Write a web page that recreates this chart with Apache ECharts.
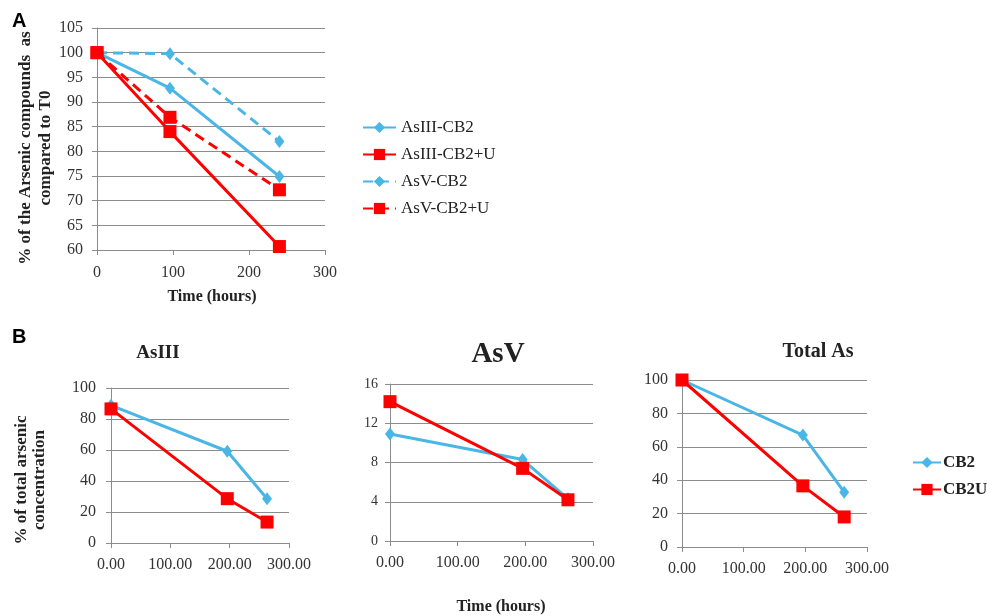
<!DOCTYPE html>
<html>
<head>
<meta charset="utf-8">
<script src="https://cdn.jsdelivr.net/npm/echarts@6/dist/echarts.min.js"></script>
<style>html,body{margin:0;padding:0;background:#fff}#c{width:987px;height:616px}</style>
</head>
<body>
<div id="c"></div>
<script>
// Panel A data
const timeA = [0, 96, 240];
const asIII_CB2 = [100, 92.8, 74.9];
const asIII_CB2U = [100, 84, 60.7];
const asV_CB2 = [100, 99.8, 82];
const asV_CB2U = [100, 86.9, 72.2];
const legendA = ['AsIII-CB2', 'AsIII-CB2+U', 'AsV-CB2', 'AsV-CB2+U'];
// Panel B data
const timeB = [0, 196, 263];
const bAsIII_CB2 = [88.8, 59.2, 28.5];
const bAsIII_CB2U = [86.5, 28.6, 13.5];
const bAsV_CB2 = [10.9, 8.3, 4.3];
const bAsV_CB2U = [14.2, 7.4, 4.2];
const bTot_CB2 = [100, 67, 32.8];
const bTot_CB2U = [100, 36.6, 18];
const legendB = ['CB2', 'CB2U'];
const titlesB = ['AsIII', 'AsV', 'Total As'];

const BLUE = '#4ab6e6', RED = '#ff0000';
const SERIF = 'Liberation Serif';
const pairs = (xs, ys) => xs.map((x, i) => [x, ys[i]]);

function xAx(grid, fmt, fs, margin) {
  return {
    type: 'value', gridIndex: grid, min: 0, max: 300, interval: 100,
    axisLine: {show: true, lineStyle: {color: '#8c8c8c', width: 1}},
    axisTick: {show: true, length: 5, lineStyle: {color: '#8c8c8c'}},
    splitLine: {show: false},
    axisLabel: {color: '#333', fontFamily: SERIF, fontSize: fs, margin: margin,
      formatter: v => fmt ? v.toFixed(2) : String(v)}
  };
}
function yAx(grid, min, max, interval, fs, margin) {
  return {
    type: 'value', gridIndex: grid, min: min, max: max, interval: interval,
    axisLine: {show: true, lineStyle: {color: '#8c8c8c', width: 1}},
    axisTick: {show: true, length: 5, lineStyle: {color: '#8c8c8c'}},
    splitLine: {show: true, lineStyle: {color: '#8c8c8c', width: 1}},
    axisLabel: {color: '#333', fontFamily: SERIF, fontSize: fs, margin: margin}
  };
}
function ser(name, xi, xs, ys, color, dashed, sym) {
  const isSq = sym === 'square';
  return {
    name: name, type: 'line', xAxisIndex: xi, yAxisIndex: xi,
    data: pairs(xs, ys),
    symbol: isSq ? 'rect' : 'diamond',
    symbolSize: isSq ? 13 : [10, 13],
    showSymbol: true,
    lineStyle: {color: color, width: 3, type: dashed ? [10, 6] : 'solid'},
    itemStyle: {color: color},
    z: isSq ? 3 : 2
  };
}

const chart = echarts.init(document.getElementById('c'), null, {renderer: 'canvas'});
chart.setOption({
  animation: false,
  backgroundColor: '#fff',
  grid: [
    {left: 97, top: 28, width: 228, height: 222},
    {left: 111, top: 388, width: 178, height: 155},
    {left: 390, top: 384, width: 203, height: 157},
    {left: 682, top: 380, width: 185, height: 167}
  ],
  xAxis: [xAx(0, false, 16, 15), xAx(1, true, 16, 14), xAx(2, true, 16, 14), xAx(3, true, 16, 14)],
  yAxis: [yAx(0, 60, 105, 5, 16, 14), yAx(1, 0, 100, 20, 16, 15), yAx(2, 0, 16, 4, 14, 12), yAx(3, 0, 100, 20, 16, 14)],
  legend: [
    {data: legendA, orient: 'vertical', left: 357, top: 114, itemWidth: 33, itemHeight: 14, itemGap: 10,
     textStyle: {fontFamily: SERIF, fontSize: 17, color: '#222'}},
    {data: legendB, orient: 'vertical', left: 907, top: 449, itemWidth: 28, itemHeight: 14, itemGap: 10,
     textStyle: {fontFamily: SERIF, fontSize: 17, fontWeight: 'bold', color: '#222', padding: [0, 0, 0, -3]}}
  ],
  series: [
    ser(legendA[0], 0, timeA, asIII_CB2, BLUE, false, 'diamond'),
    ser(legendA[1], 0, timeA, asIII_CB2U, RED, false, 'square'),
    ser(legendA[2], 0, timeA, asV_CB2, BLUE, true, 'diamond'),
    ser(legendA[3], 0, timeA, asV_CB2U, RED, true, 'square'),
    ser(legendB[0], 1, timeB, bAsIII_CB2, BLUE, false, 'diamond'),
    ser(legendB[1], 1, timeB, bAsIII_CB2U, RED, false, 'square'),
    ser(legendB[0], 2, timeB, bAsV_CB2, BLUE, false, 'diamond'),
    ser(legendB[1], 2, timeB, bAsV_CB2U, RED, false, 'square'),
    ser(legendB[0], 3, timeB, bTot_CB2, BLUE, false, 'diamond'),
    ser(legendB[1], 3, timeB, bTot_CB2U, RED, false, 'square')
  ],
  graphic: [
    {type: 'text', left: 12, top: 11, style: {text: 'A', font: 'bold 20px "Liberation Sans"', fill: '#000'}},
    {type: 'text', left: 12, top: 327, style: {text: 'B', font: 'bold 20px "Liberation Sans"', fill: '#000'}},
    {type: 'text', x: 36, y: 148, rotation: Math.PI / 2,
     style: {text: '% of the Arsenic compounds  as\ncompared to T0', font: 'bold 17px "Liberation Serif"', fill: '#222',
       align: 'center', verticalAlign: 'middle', lineHeight: 20}},
    {type: 'text', x: 212, y: 297, style: {text: 'Time (hours)', font: 'bold 16px "Liberation Serif"', fill: '#222', align: 'center', verticalAlign: 'middle'}},
    {type: 'text', x: 31, y: 480, rotation: Math.PI / 2,
     style: {text: '% of total arsenic\nconcentration', font: 'bold 17px "Liberation Serif"', fill: '#222',
       align: 'center', verticalAlign: 'middle', lineHeight: 18}},
    {type: 'text', x: 501, y: 607, style: {text: 'Time (hours)', font: 'bold 16px "Liberation Serif"', fill: '#222', align: 'center', verticalAlign: 'middle'}},
    {type: 'text', x: 158, y: 353, style: {text: titlesB[0], font: 'bold 19px "Liberation Serif"', fill: '#222', align: 'center', verticalAlign: 'middle'}},
    {type: 'text', x: 498, y: 355, style: {text: titlesB[1], font: 'bold 29px "Liberation Serif"', fill: '#222', align: 'center', verticalAlign: 'middle'}},
    {type: 'text', x: 818, y: 352, style: {text: titlesB[2], font: 'bold 20px "Liberation Serif"', fill: '#222', align: 'center', verticalAlign: 'middle'}}
  ]
});
</script>
</body>
</html>
